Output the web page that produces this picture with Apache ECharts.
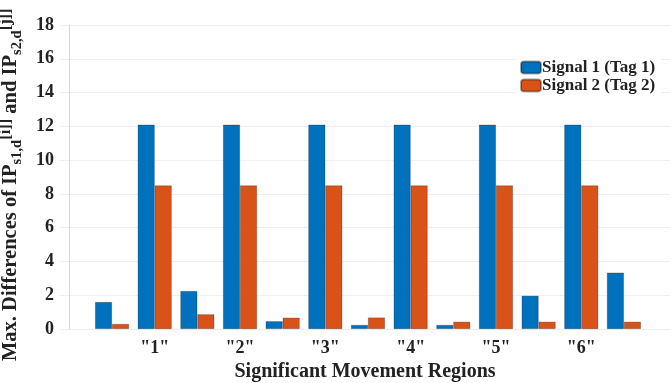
<!DOCTYPE html>
<html><head><meta charset="utf-8">
<script src="https://cdn.jsdelivr.net/npm/echarts@6/dist/echarts.min.js"></script>
<style>html,body{margin:0;padding:0;background:#fff}#c{width:671px;height:383px}</style>
</head><body><div id="c"></div>
<script>
const positions = [1,2,3,4,5,6,7,8,9,10,11,12,13];
const signal1 = [1.6, 12.1, 2.25, 12.1, 0.46, 12.1, 0.24, 12.1, 0.24, 12.1, 1.97, 12.1, 3.34];
const signal2 = [0.3, 8.5, 0.87, 8.5, 0.67, 8.5, 0.68, 8.5, 0.43, 8.5, 0.43, 8.5, 0.43];
const tickPositions = [2,4,6,8,10,12];
const tickLabels = ['"1"','"2"','"3"','"4"','"5"','"6"'];
const seriesNames = ['Signal 1 (Tag 1)','Signal 2 (Tag 2)'];

const FONT = '"Liberation Serif","Times New Roman",serif';
const chart = echarts.init(document.getElementById('c'));
chart.setOption({
  animation:false,
  backgroundColor:'#fff',
  grid:{left:60,right:1,top:25,bottom:54,containLabel:false,outerBoundsMode:'none'},
  legend:{
    orient:'vertical', left:517, top:55,
    backgroundColor:'#fff', padding:[4,6,4,3],
    itemWidth:20, itemHeight:12, itemGap:1,
    textStyle:{fontFamily:FONT,fontWeight:'bold',fontSize:17,color:'#222',padding:[0,0,0,-4]},
    data:seriesNames
  },
  xAxis:{
    type:'value', min:-0.22, max:14.08,
    axisLine:{show:false},
    axisTick:{show:false},
    splitLine:{show:false},
    axisLabel:{customValues:tickPositions, margin:10,
      fontFamily:FONT,fontWeight:'bold',fontSize:18,color:'#222',
      formatter:v=>tickLabels[tickPositions.indexOf(v)]},
    name:'Significant Movement Regions', nameLocation:'middle', nameGap:31,
    nameTextStyle:{fontFamily:FONT,fontWeight:'bold',fontSize:20,color:'#222'}
  },
  yAxis:{
    type:'value', min:0, max:18, interval:2,
    axisLine:{show:true,lineStyle:{color:'#d8d8d8'}},
    axisTick:{show:false},
    splitLine:{lineStyle:{color:'#efefef'}},
    axisLabel:{margin:6,fontFamily:FONT,fontWeight:'bold',fontSize:18,color:'#222'},
    name:'{m|Max. Differences of IP}{sub|s1,d}{sup|[i]]}{m| and IP}{sub|s2,d}{sup|[j]]}{m|   }',
    nameLocation:'middle', nameGap:32,
    nameTextStyle:{
      fontFamily:FONT,fontWeight:'bold',fontSize:20,color:'#222',
      rich:{
        m:{fontFamily:FONT,fontWeight:'bold',fontSize:20.5,color:'#222',lineHeight:28,verticalAlign:'middle'},
        sub:{fontFamily:FONT,fontWeight:'bold',fontSize:14.5,color:'#222',lineHeight:28,verticalAlign:'bottom'},
        sup:{fontFamily:FONT,fontWeight:'bold',fontSize:16.5,color:'#222',lineHeight:28,verticalAlign:'top'}
      }
    }
  },
  series:[
    {name:seriesNames[0],type:'bar',barWidth:17,barGap:'0%',
     itemStyle:{color:'#0072BD',borderColor:'rgba(0,0,0,0.35)',borderWidth:0.7},
     data:positions.map((p,i)=>[p,signal1[i]])},
    {name:seriesNames[1],type:'bar',barWidth:17,barGap:'0%',
     itemStyle:{color:'#D95319',borderColor:'rgba(0,0,0,0.35)',borderWidth:0.7},
     data:positions.map((p,i)=>[p,signal2[i]])}
  ]
});
</script></body></html>
